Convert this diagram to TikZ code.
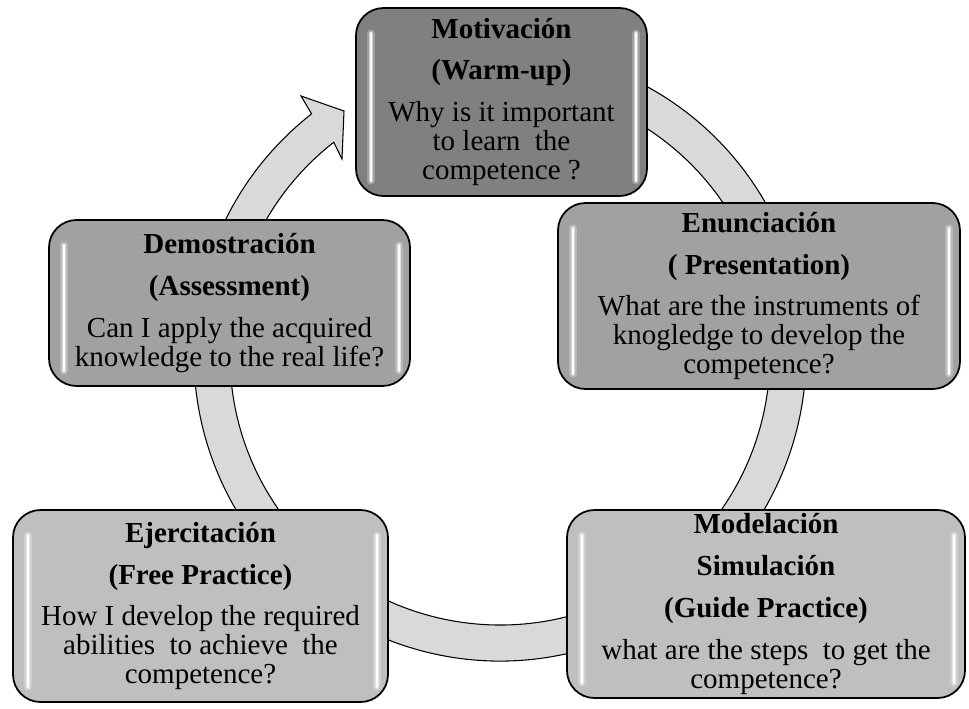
\documentclass[tikz,border=0pt]{standalone}
\usepackage{fontspec}
\setmainfont{Liberation Serif}
\usepackage{tikz}

\begin{document}
\begin{tikzpicture}[
    thick,
    ring/.style={draw=black, fill=black!15, line width=0.6pt},
    stage/.style={rectangle, rounded corners=0.55cm, draw, line width=1pt, align=center, inner sep=0pt,
      font=\fontsize{16.5}{16.5}\selectfont,
      path picture={
        \foreach \w/\o in {4pt/0.25, 2pt/0.5, 1pt/0.9}
          \draw[white, line width=\w, line cap=round, opacity=\o]
            ([shift={(0.3,-0.5)}]path picture bounding box.north west) -- ([shift={(0.3,0.3)}]path picture bounding box.south west)
            ([shift={(-0.22,-0.5)}]path picture bounding box.north east) -- ([shift={(-0.22,0.3)}]path picture bounding box.south east);
      }},
    dark/.style={stage, fill=black!50},
    mid/.style={stage, fill=black!37},
    light/.style={stage, fill=black!25}
  ]
  \useasboundingbox (-10,-7.06) rectangle (9.38,7.1);

  % Ring
  \path[ring] (70:6.12) arc[start angle=70, end angle=-232, radius=6.12]
    -- (-3.98,5.18) -- (-3.12,4.88) -- (-3.16,3.92)
    -- (-232:5.4) arc[start angle=-232, end angle=70, radius=5.4] -- cycle;

  % Nodes
  \node[dark, minimum width=5.82cm, minimum height=3.76cm] (motiv) at (0.03,5.06)
    {\textbf{Motivación}\\[7.3pt]\textbf{(Warm-up)}\\[7.3pt]Why is it important\\to learn~ the\\competence ?};
  \node[mid, minimum width=8.04cm, minimum height=3.72cm] (enun) at (5.18,1.18)
    {\textbf{Enunciación}\\[7.3pt]\textbf{( Presentation)}\\[7.3pt]What are the instruments of\\knogledge to develop the\\competence?};
  \node[light, minimum width=7.96cm, minimum height=3.76cm] (model) at (5.32,-4.98)
    {\textbf{Modelación}\\[7.3pt]\textbf{Simulación}\\[7.3pt]\textbf{(Guide Practice)}\\[7.3pt]what are the steps~ to get the\\competence?};
  \node[light, minimum width=7.5cm, minimum height=3.84cm] (ejer) at (-5.99,-5.02)
    {\textbf{Ejercitación}\\[7.3pt]\textbf{(Free Practice)}\\[7.3pt]How I develop the required\\abilities~ to achieve~ the\\competence?};
  \node[mid, minimum width=7.22cm, minimum height=3.32cm] (demo) at (-5.41,1.04)
    {\textbf{Demostración}\\[7.3pt]\textbf{(Assessment)}\\[7.3pt]Can I apply the acquired\\knowledge to the real life?};

\end{tikzpicture}
\end{document}
